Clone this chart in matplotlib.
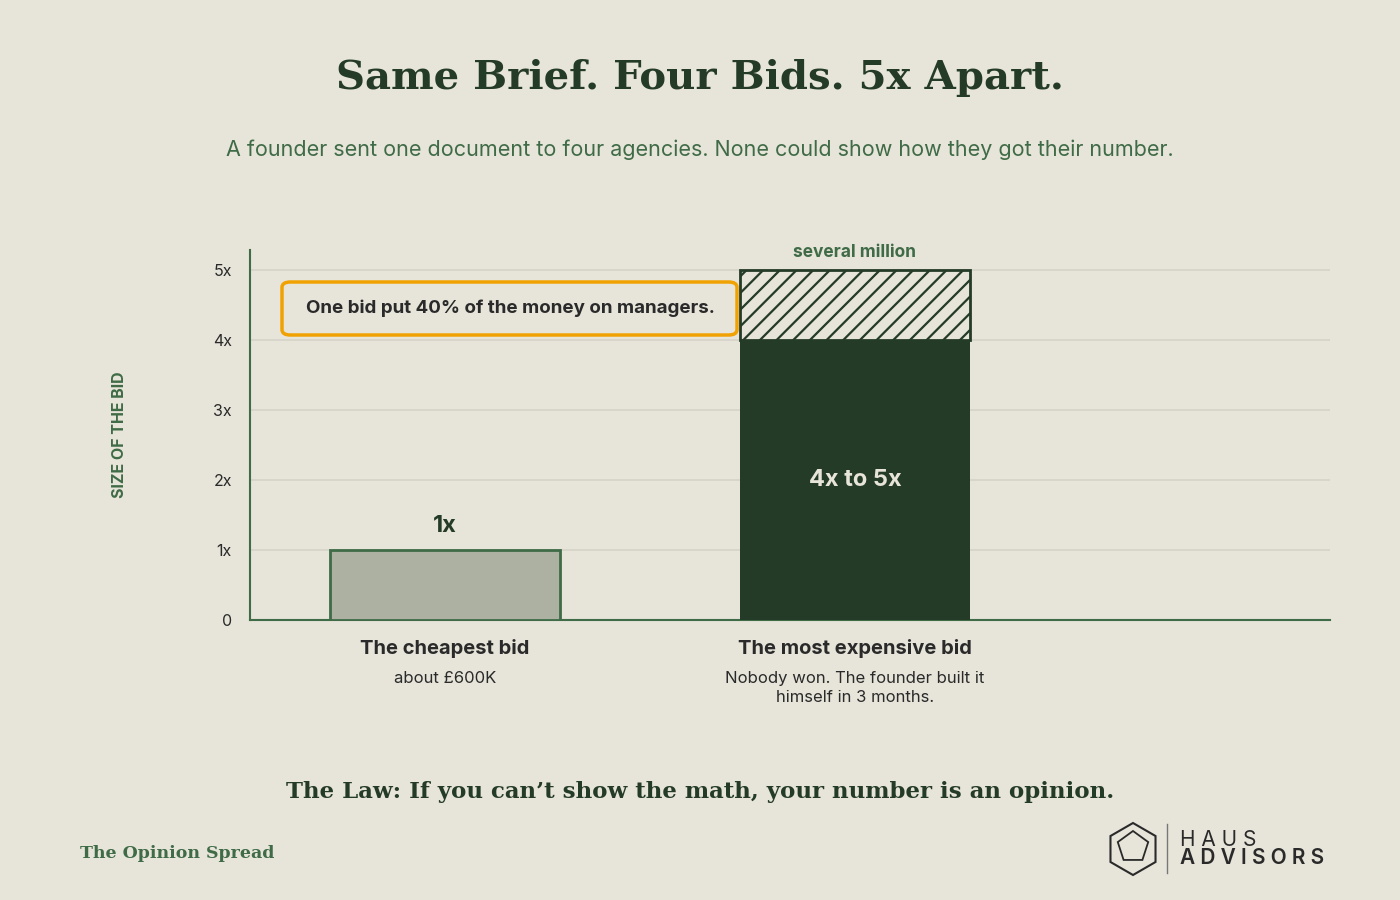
import matplotlib as mpl
import matplotlib.pyplot as plt
import numpy as np
from matplotlib.patches import FancyBboxPatch, RegularPolygon
from matplotlib.lines import Line2D

mpl.use("Agg")

BG = "#E7E4D9"
DARK = "#243B27"
MID = "#3F6B46"
GREY = "#ADB1A2"
ORANGE = "#F0A202"
TEXT = "#2A2A2A"

categories = ["The cheapest bid", "The most expensive bid"]
subtitles = ["about £600K", "Nobody won. The founder built it\nhimself in 3 months."]
base_values = [1, 4]
top_range = [0, 1]  # hatched uncertainty on top
bar_labels = ["1x", "4x to 5x"]
yticks = [0, 1, 2, 3, 4, 5]
ytick_labels = ["0", "1x", "2x", "3x", "4x", "5x"]

plt.rcParams["font.family"] = ["Inter", "DejaVu Sans"]
plt.rcParams["hatch.linewidth"] = 1.6

fig = plt.figure(figsize=(14, 9), dpi=100, facecolor=BG)
ax = fig.add_axes([250 / 1400, 280 / 900, 1080 / 1400, 370 / 900], facecolor=BG)

x = np.arange(len(categories))
w = 0.561
ax.bar(x[0], base_values[0], width=w, color=GREY, edgecolor=MID, linewidth=2, zorder=3)
ax.bar(x[1], base_values[1], width=w, color=DARK, edgecolor=DARK, linewidth=0, zorder=3)
ax.bar(x[1], top_range[1], bottom=base_values[1], width=w, color=BG, edgecolor=DARK,
       hatch="//", linewidth=2, zorder=3)

ax.text(x[0], base_values[0] + 0.18, bar_labels[0], ha="center", va="bottom",
        fontsize=17, fontweight="bold", color=DARK)
ax.text(x[1], base_values[1] / 2, bar_labels[1], ha="center", va="center",
        fontsize=17, fontweight="bold", color=BG)
ax.text(x[1], base_values[1] + top_range[1] + 0.13, "several million", ha="center",
        va="bottom", fontsize=12.5, fontweight="bold", color=MID)

ax.set_xlim(-0.4756, 2.159)
ax.set_ylim(0, 5.29)
ax.set_yticks(yticks)
ax.set_yticklabels(ytick_labels, fontsize=11.5, color=TEXT)
ax.set_xticks([])
ax.tick_params(axis="y", length=0, pad=13)
ax.grid(axis="y", color="#D6D3C7", linewidth=1.2, zorder=0)
for s in ["top", "right"]:
    ax.spines[s].set_visible(False)
for s in ["left", "bottom"]:
    ax.spines[s].set_color(MID)
    ax.spines[s].set_linewidth(1.5)
ax.set_ylabel("SIZE OF THE BID", fontsize=11.5, fontweight="bold", color=MID, labelpad=62)

for xi, cat, sub in zip(x, categories, subtitles):
    ax.annotate(cat, (xi, 0), xytext=(0, -14), textcoords="offset points", ha="center",
                va="top", fontsize=14.5, fontweight="bold", color=TEXT)
    ax.annotate(sub, (xi, 0), xytext=(0, -37), textcoords="offset points", ha="center",
                va="top", fontsize=12, color=TEXT, linespacing=1.3)

# callout box
box = FancyBboxPatch((282 / 1400, 565 / 900), 455 / 1400, 53 / 900,
                     boxstyle="round,pad=0,rounding_size=0.006", transform=fig.transFigure,
                     facecolor=BG, edgecolor=ORANGE, linewidth=2.5, zorder=5)
fig.patches.append(box)
fig.text(510 / 1400, 592 / 900, "One bid put 40% of the money on managers.", ha="center",
         va="center", fontsize=13.5, fontweight="bold", color=TEXT, zorder=6)

serif = ["DejaVu Serif"]
fig.text(0.5, 822 / 900, "Same Brief. Four Bids. 5x Apart.", ha="center", va="center",
         fontsize=29, fontweight="bold", color=DARK, family=serif)
fig.text(0.5, 750 / 900, "A founder sent one document to four agencies. None could show how they got their number.",
         ha="center", va="center", fontsize=15.5, color=MID)
fig.text(0.5, 108 / 900, "The Law: If you can\u2019t show the math, your number is an opinion.",
         ha="center", va="center", fontsize=16.5, fontweight="bold", color=DARK, family=serif)
fig.text(80 / 1400, 46 / 900, "The Opinion Spread", ha="left", va="center", fontsize=12.5,
         fontweight="bold", color=MID, family=serif)

# logo
fig.patches.append(RegularPolygon((11.33, 0.51), 6, radius=0.26, orientation=0,
                                  transform=fig.dpi_scale_trans, fill=False, edgecolor=TEXT,
                                  linewidth=1.5))
fig.patches.append(RegularPolygon((11.33, 0.53), 5, radius=0.16, orientation=0,
                                  transform=fig.dpi_scale_trans, fill=False, edgecolor=TEXT,
                                  linewidth=1.3))
fig.add_artist(Line2D([1167 / 1400, 1167 / 1400], [27 / 900, 76 / 900], color="#777", lw=1))
fig.text(1180 / 1400, 60 / 900, "H A U S", fontsize=15, color=TEXT, va="center")
fig.text(1180 / 1400, 42 / 900, "A D V I S O R S", fontsize=15, color=TEXT, va="center",
         fontweight="semibold")

fig.savefig("out.png", facecolor=BG)
